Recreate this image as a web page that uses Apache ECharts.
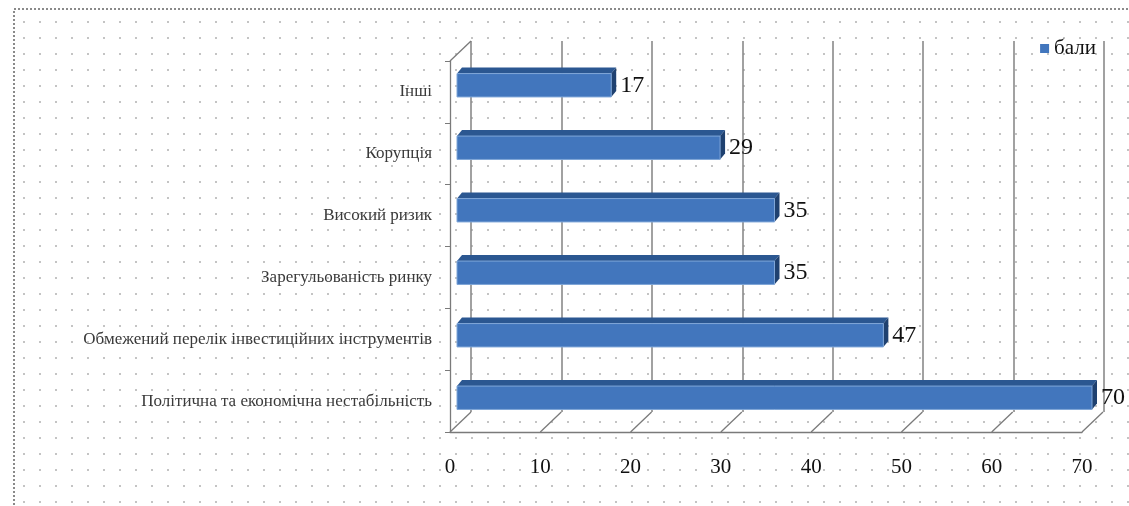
<!DOCTYPE html>
<html>
<head>
<meta charset="utf-8">
<script src="https://cdn.jsdelivr.net/npm/echarts@6/dist/echarts.min.js"></script>
<style>
  html, body { margin: 0; padding: 0; background: #fff; }
  #wrap { position: relative; width: 1129px; height: 506px; overflow: hidden; }
  #dots {
    position: absolute; left: 14px; top: 9px; right: 0; bottom: 0;
    background-image: radial-gradient(circle, #c4c4c4 0.9px, transparent 1.3px);
    background-size: 16px 16px;
    background-position: 2px 5px;
  }
  #chart { position: absolute; left: 0; top: 0; width: 1129px; height: 506px; }
</style>
</head>
<body>
<div id="wrap">
  <div id="dots"></div>
  <div id="chart"></div>
</div>
<script>
// categories listed top to bottom
const categories = [
  "Інші",
  "Корупція",
  "Високий ризик",
  "Зарегульованість ринку",
  "Обмежений перелік інвестиційних інструментів",
  "Політична та економічна нестабільність"
];
const scores = [17, 29, 35, 35, 47, 70];
const xTicks = [0, 10, 20, 30, 40, 50, 60, 70];
const seriesName = "бали";

const serif = "'Liberation Serif', 'DejaVu Serif', serif";
const depthX = 21, depthY = 20;   // 3d wall depth
const barDX = 5, barDY = 6;       // 3d bar top/side

const renderBar = (params, api) => {
  const end = api.coord([api.value(0), api.value(1)]);
  const start = api.coord([0, api.value(1)]);
  const band = api.size([0, 1])[1];
  const h = band * 0.47;
  const x0 = start[0], x1 = end[0], c = end[1];
  const ft = c - h / 2 + barDY, fb = c + h / 2;
  return {
    type: "group",
    children: [
      { type: "polygon", shape: { points: [[x0, ft], [x0 + barDX, ft - barDY], [x1 + barDX, ft - barDY], [x1, ft]] },
        style: { fill: "#2b5791" } },
      { type: "polygon", shape: { points: [[x1, ft], [x1 + barDX, ft - barDY], [x1 + barDX, fb - barDY], [x1, fb]] },
        style: { fill: "#1f4170" } },
      { type: "rect", shape: { x: x0, y: ft, width: x1 - x0, height: fb - ft },
        style: { fill: "#4276bd", stroke: "#7fa6d8", lineWidth: 1 } },
      { type: "text", x: x1 + barDX + 4, y: c + 3,
        style: { text: String(api.value(0)), font: "24px " + serif, fill: "#111", verticalAlign: "middle" } }
    ]
  };
};

const renderFloor = (params, api) => {
  const cs = params.coordSys;
  const x = api.coord([api.value(0), 0])[0];
  const bottom = cs.y + cs.height;
  const children = [
    { type: "line", shape: { x1: x, y1: bottom, x2: x + depthX, y2: bottom - depthY },
      style: { stroke: "#7a7a7a", lineWidth: 1.3 } }
  ];
  if (params.dataIndex === 0) {
    children.push({ type: "line", shape: { x1: cs.x, y1: cs.y, x2: cs.x + depthX, y2: cs.y - depthY },
      style: { stroke: "#7a7a7a", lineWidth: 1.3 } });
  }
  return { type: "group", children };
};

const chart = echarts.init(document.querySelector("#chart"));
chart.setOption({
  backgroundColor: "transparent",
  animation: false,
  graphic: [
    { type: "rect", shape: { x: 14, y: 9, width: 1300, height: 700 },
      style: { fill: "none", stroke: "#8a8a8a", lineWidth: 2, lineDash: [2, 2] }, silent: true }
  ],
  legend: {
    data: [seriesName],
    right: 28,
    top: 33,
    icon: "rect",
    itemWidth: 9,
    itemHeight: 9,
    itemGap: 6,
    textStyle: { fontFamily: serif, fontSize: 21, color: "#111" }
  },
  grid: [
    { left: 450, right: 47, top: 61, bottom: 74 },   // front frame
    { left: 457, right: 37, top: 51, bottom: 80 },   // bars
    { left: 471, right: 25, top: 41, bottom: 94 }    // back wall
  ],
  xAxis: [
    { gridIndex: 0, type: "value", min: 0, max: 70, interval: 10,
      axisLine: { show: true, lineStyle: { color: "#7a7a7a", width: 1.3 } },
      axisTick: { show: false }, splitLine: { show: false },
      axisLabel: { margin: 25, fontFamily: serif, fontSize: 21, color: "#111" } },
    { gridIndex: 1, type: "value", min: 0, max: 70, interval: 10, show: false },
    { gridIndex: 2, type: "value", min: 0, max: 70, interval: 10,
      axisLine: { show: false }, axisTick: { show: false }, axisLabel: { show: false },
      splitLine: { show: true, lineStyle: { color: "#8a8a8a", width: 1.6 } } }
  ],
  yAxis: [
    { gridIndex: 0, type: "category", data: categories, inverse: true,
      axisLine: { show: true, lineStyle: { color: "#7a7a7a", width: 1.3 } },
      axisTick: { show: true, length: 5, lineStyle: { color: "#7a7a7a" } },
      axisLabel: { margin: 18, padding: [6, 0, 0, 0], fontFamily: serif, fontSize: 17, color: "#3a3a3a" } },
    { gridIndex: 1, type: "category", data: categories, inverse: true, show: false },
    { gridIndex: 2, type: "category", data: categories, inverse: true, show: false }
  ],
  series: [
    { type: "custom", name: "floor", xAxisIndex: 0, yAxisIndex: 0, silent: true,
      renderItem: renderFloor, data: xTicks.map(v => [v]) },
    { type: "custom", name: seriesName, xAxisIndex: 1, yAxisIndex: 1,
      itemStyle: { color: "#4276bd" },
      renderItem: renderBar,
      encode: { x: 0, y: 1 },
      data: scores.map((v, i) => [v, i]) }
  ]
});
</script>
</body>
</html>
